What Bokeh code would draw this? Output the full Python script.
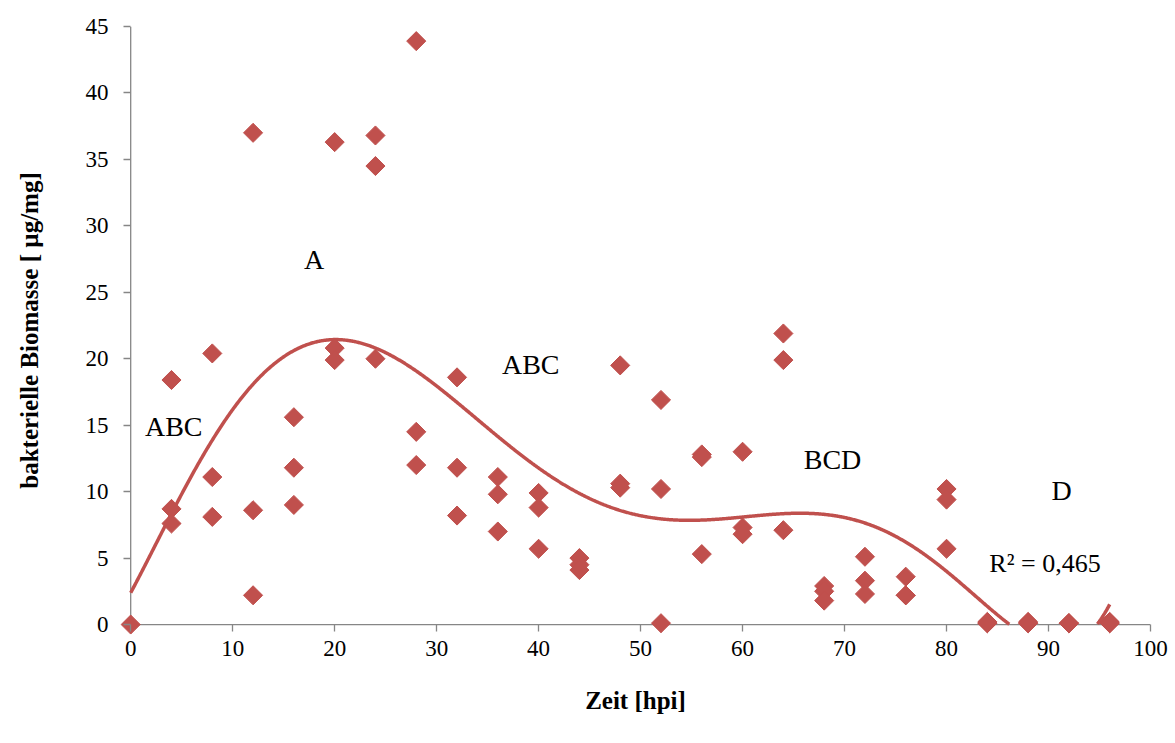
import numpy as np
from bokeh.plotting import figure
from bokeh.models import ColumnDataSource, FixedTicker, Range1d
from bokeh.core.properties import value
from bokeh.embed import file_html
from bokeh.resources import INLINE

# ---- data ----
hours = [0,
         4, 4, 4,
         8, 8, 8,
         12, 12, 12,
         16, 16, 16,
         20, 20, 20,
         24, 24, 24,
         28, 28, 28,
         32, 32, 32,
         36, 36, 36,
         40, 40, 40,
         44, 44, 44,
         48, 48, 48,
         52, 52, 52,
         56, 56, 56,
         60, 60, 60,
         64, 64, 64,
         68, 68, 68,
         72, 72, 72,
         76, 76, 76,
         80, 80, 80,
         84, 84, 84,
         88, 88, 88,
         92, 92, 92,
         96, 96, 96]
biomass = [0.0,
           18.4, 8.7, 7.6,
           20.4, 11.1, 8.1,
           37.0, 8.6, 2.2,
           15.6, 11.8, 9.0,
           36.3, 20.8, 19.9,
           36.8, 34.5, 20.0,
           43.9, 14.5, 12.0,
           18.6, 11.8, 8.2,
           11.1, 9.8, 7.0,
           9.9, 8.8, 5.7,
           5.0, 4.5, 4.1,
           19.5, 10.6, 10.3,
           16.9, 10.2, 0.1,
           12.8, 12.6, 5.3,
           13.0, 7.3, 6.8,
           21.9, 19.9, 7.1,
           2.9, 2.5, 1.8,
           5.1, 3.3, 2.3,
           3.6, 2.2, 2.2,
           10.2, 9.4, 5.7,
           0.2, 0.1, 0.1,
           0.2, 0.1, 0.1,
           0.1, 0.1, 0.1,
           0.2, 0.1, 0.1]

x_ticks = [0, 10, 20, 30, 40, 50, 60, 70, 80, 90, 100]
y_ticks = [0, 5, 10, 15, 20, 25, 30, 35, 40, 45]

group_labels = ["ABC", "A", "ABC", "BCD", "D"]
label_x = [1.4, 17.0, 36.4, 66.0, 90.3]
label_y = [14.9, 27.5, 19.6, 12.4, 10.1]

r2_label = ["R² = 0,465"]
r2_x = [84.2]
r2_y = [4.6]

# polynomial trendline (order 6) fitted to the data, shown only above the x axis
coef = np.polyfit(np.array(hours, float), np.array(biomass, float), 6)
tx = np.linspace(0, 96, 1200)
ty = np.polyval(coef, tx)
ty = np.where(ty < 0, np.nan, ty)

RED = "#C0504D"
AX = "#868686"
FONT = "Liberation Serif"

# the frame is padded a little so that markers on the axes are not cut off
p = figure(width=1175, height=743, output_backend="svg", toolbar_location=None,
           x_range=Range1d(-1.0, 100), y_range=Range1d(-0.75, 45),
           min_border_left=120, min_border_right=25, min_border_top=26,
           min_border_bottom=109)
p.outline_line_color = None
p.xgrid.grid_line_color = None
p.ygrid.grid_line_color = None

# axis lines at zero
p.segment(x0=[x_ticks[0], x_ticks[0]], y0=[y_ticks[0], y_ticks[0]],
          x1=[x_ticks[-1], x_ticks[0]], y1=[y_ticks[0], y_ticks[-1]],
          line_color=AX, line_width=1.3)

p.line(tx, ty, line_color=RED, line_width=3.5)
src = ColumnDataSource(dict(x=hours, y=biomass))
p.scatter("x", "y", source=src, marker="square", size=13.5, angle=np.pi / 4,
          fill_color=RED, line_color=RED)

lsrc = ColumnDataSource(dict(x=label_x, y=label_y, t=group_labels))
p.text("x", "y", text="t", source=lsrc, text_font=value(FONT),
       text_font_size="28px", text_align="left", text_baseline="middle",
       text_color="black")
rsrc = ColumnDataSource(dict(x=r2_x, y=r2_y, t=r2_label))
p.text("x", "y", text="t", source=rsrc, text_font=value(FONT),
       text_font_size="26px", text_align="left", text_baseline="middle",
       text_color="black")

for ax in (p.xaxis, p.yaxis):
    ax.axis_line_color = None
    ax.major_tick_line_color = AX
    ax.major_tick_line_width = 1.3
    ax.minor_tick_line_color = None
    ax.major_tick_in = 10
    ax.major_tick_out = -3
    ax.major_label_text_font = FONT
    ax.major_label_text_font_size = "23px"
    ax.major_label_text_color = "black"
    ax.axis_label_text_font = FONT
    ax.axis_label_text_font_size = "25px"
    ax.axis_label_text_font_style = "bold"
    ax.axis_label_text_color = "black"

p.xaxis.ticker = FixedTicker(ticks=x_ticks)
p.yaxis.ticker = FixedTicker(ticks=y_ticks)
p.xaxis.axis_label = "Zeit [hpi]"
p.yaxis.axis_label = "bakterielle Biomasse [ µg/mg]"
p.xaxis.major_label_standoff = 6
p.yaxis.major_label_standoff = 12
p.xaxis.axis_label_standoff = 28
p.yaxis.axis_label_standoff = 40

open("out.html", "w").write(file_html(p, INLINE))
